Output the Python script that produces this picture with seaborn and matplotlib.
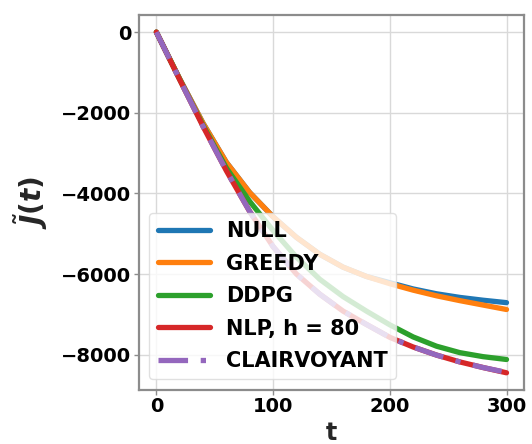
import matplotlib
matplotlib.use("Agg")
import matplotlib.pyplot as plt
import pandas as pd
import seaborn as sns

t = [0, 20, 40, 60, 80, 100, 120, 140, 160, 180, 200, 220, 240, 260, 280, 300]
null_j = [0, -1160, -2260, -3230, -3980, -4580, -5090, -5510, -5830, -6060,
          -6215, -6370, -6490, -6580, -6650, -6710]
greedy_j = [0, -1160, -2260, -3230, -3980, -4580, -5090, -5510, -5830, -6060,
            -6240, -6400, -6540, -6660, -6770, -6880]
ddpg_j = [0, -1170, -2310, -3370, -4200, -4920, -5580, -6130, -6560, -6920,
          -7260, -7560, -7790, -7950, -8050, -8120]
nlp_j = [0, -1180, -2340, -3440, -4450, -5320, -6000, -6500, -6920, -7250,
         -7570, -7810, -8010, -8180, -8320, -8450]
clair_j = [0, -1180, -2340, -3440, -4450, -5320, -6000, -6500, -6920, -7250,
           -7570, -7810, -8010, -8180, -8320, -8440]

labels = ["NULL", "GREEDY", "DDPG", "NLP, h = 80", "CLAIRVOYANT"]
series = [null_j, greedy_j, ddpg_j, nlp_j, clair_j]
colors = ["#1f77b4", "#ff7f0e", "#2ca02c", "#d62728", "#9467bd"]
styles = ["-", "-", "-", "-", (0, (5.6, 2.4, 1, 2.4))]

sns.set_theme(style="whitegrid")
plt.rcParams["font.family"] = ["DejaVu Sans"]
plt.rcParams["font.weight"] = "bold"
plt.rcParams["mathtext.fontset"] = "dejavusans"
plt.rcParams["text.color"] = "black"
plt.rcParams["xtick.color"] = "black"
plt.rcParams["ytick.color"] = "black"

fig = plt.figure(figsize=(5.32, 4.44), dpi=100)
ax = fig.add_axes([0.261, 0.122, 0.724, 0.844])

for lab, ys, col, ls in zip(labels, series, colors, styles):
    df = pd.DataFrame({"t": t, "J": ys})
    sns.lineplot(data=df, x="t", y="J", color=col, linewidth=3.8,
                 linestyle=ls, label=lab, ax=ax)

ax.set_xticks([0, 100, 200, 300])
ax.set_yticks([0, -2000, -4000, -6000, -8000])
ax.tick_params(axis="both", labelsize=14, length=3.5, width=1,
               color="0.55", left=True, bottom=True, pad=2)
for lbl in ax.get_xticklabels() + ax.get_yticklabels():
    lbl.set_fontweight("bold")
for sp in ax.spines.values():
    sp.set_edgecolor("0.55")
    sp.set_linewidth(1.6)
ax.grid(color="0.85", linewidth=1)

ax.set_xlabel("t", fontsize=17, fontweight="bold", labelpad=3)
ax.set_ylabel(r"$\boldsymbol{\tilde{J}(t)}$", fontsize=20, labelpad=8)

ax.legend(loc="lower left", handlelength=2.5, labelspacing=0.6,
          prop={"weight": "bold", "size": 15}, framealpha=0.8,
          edgecolor="0.85")

fig.savefig("out.png", dpi=100)
